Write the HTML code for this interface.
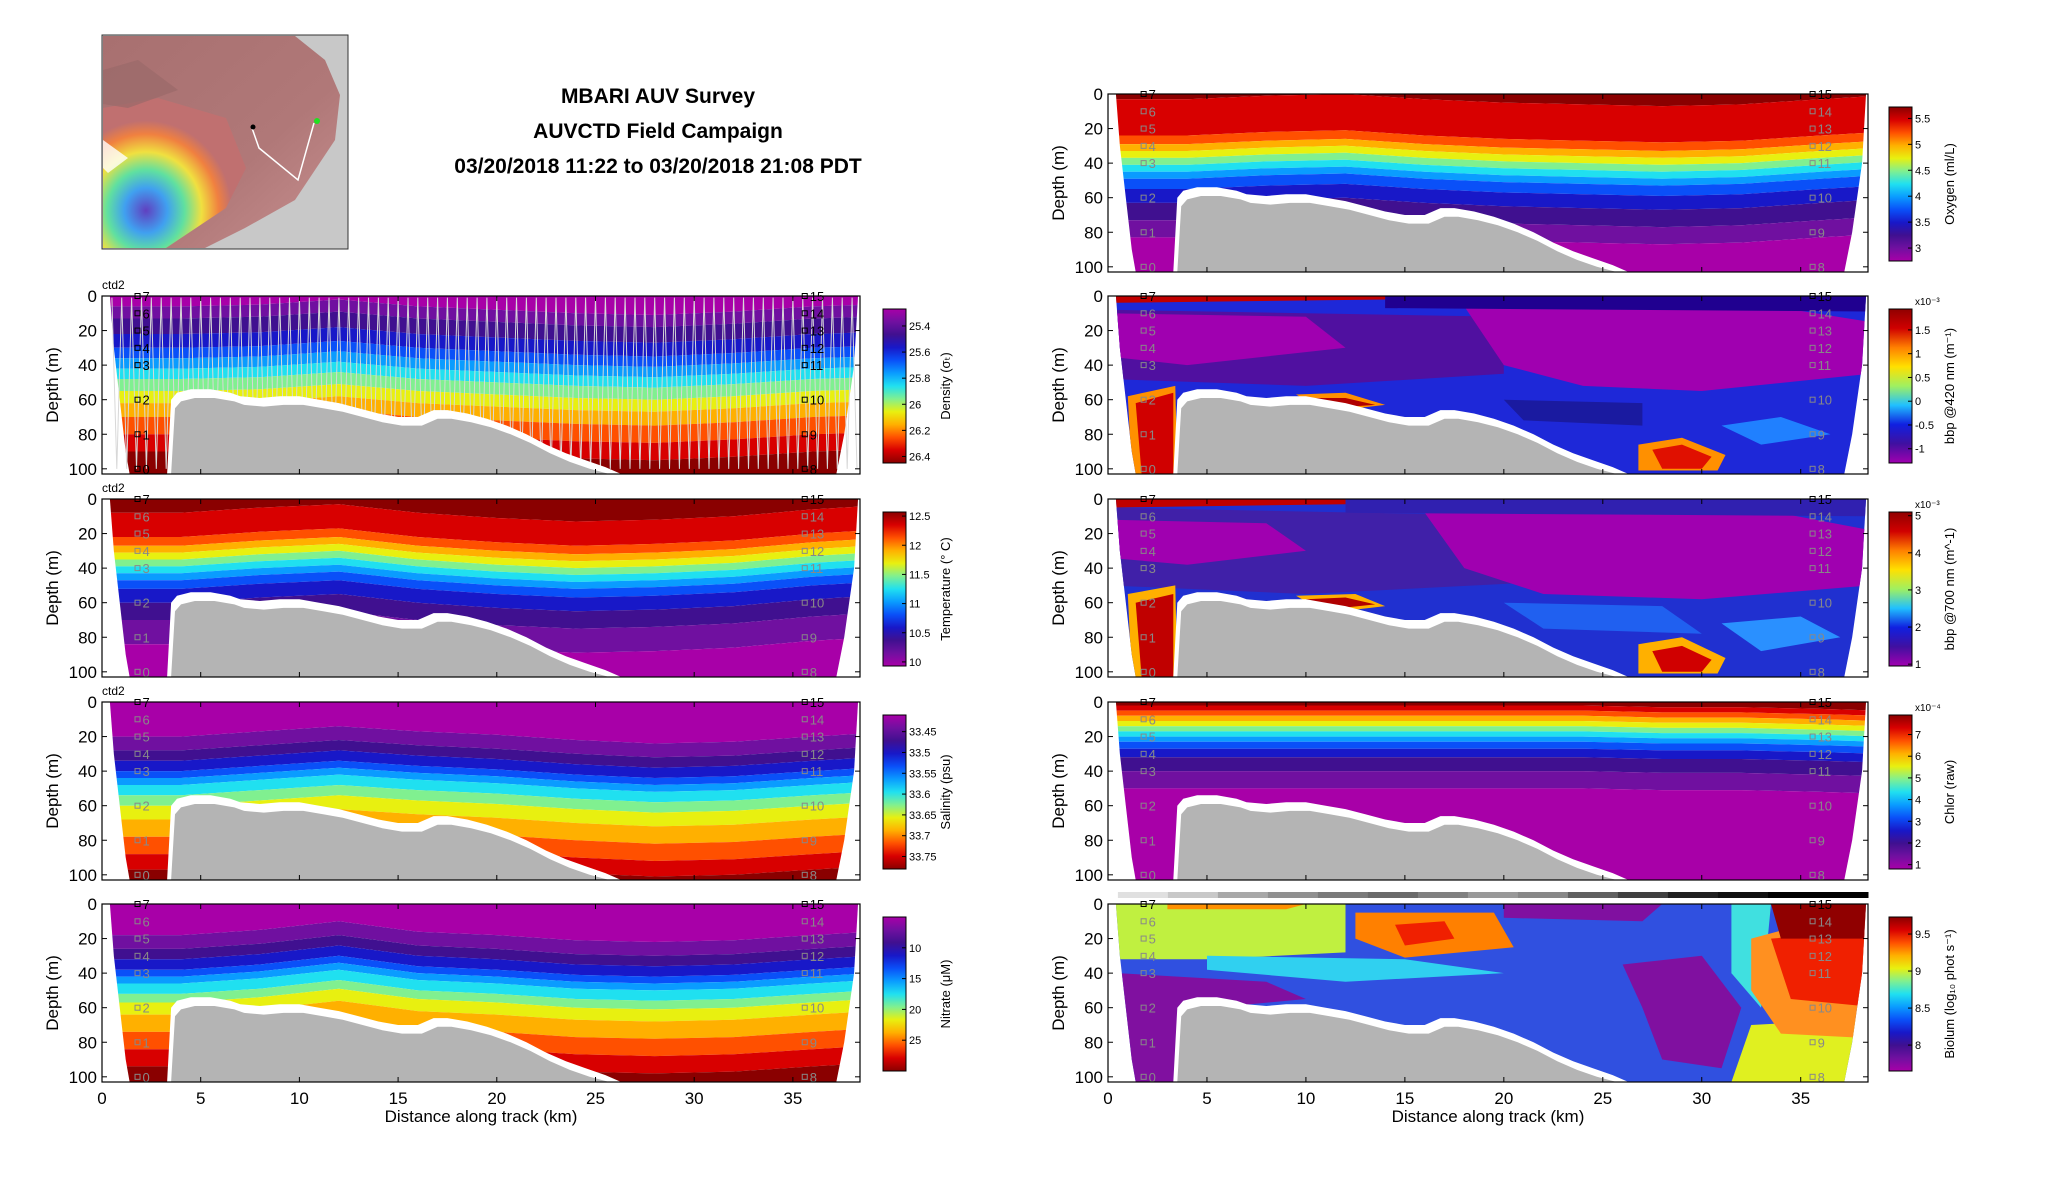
<!DOCTYPE html>
<html><head><meta charset="utf-8"><title>MBARI AUV Survey</title>
<style>
html,body{margin:0;padding:0;background:#fff;}
svg{display:block;font-family:"Liberation Sans",sans-serif;}
</style></head>
<body>
<svg id="fig" width="2052" height="1188" viewBox="0 0 2052 1188" xmlns="http://www.w3.org/2000/svg">
  <defs id="defs"></defs>
  <g id="inset">
    <defs>
      <linearGradient id="landG" x1="0" y1="0" x2="1" y2="1">
        <stop offset="0" stop-color="#a87070"/><stop offset="0.6" stop-color="#b07878"/><stop offset="1" stop-color="#c89090"/>
      </linearGradient>
      <radialGradient id="bayG" cx="0.3" cy="0.75" r="0.6">
        <stop offset="0" stop-color="#6040c0"/><stop offset="0.25" stop-color="#40a0f0"/><stop offset="0.45" stop-color="#60e0a0"/><stop offset="0.65" stop-color="#f0e040"/><stop offset="0.85" stop-color="#f08040"/><stop offset="1" stop-color="#c07070"/>
      </radialGradient>
    </defs>
    <rect x="102" y="35" width="246" height="214" fill="#c8c8c8" stroke="#333" stroke-width="1"/>
    <path d="M103,36 L295,36 L325,60 L340,95 L335,140 L315,170 L295,200 L245,228 L205,248 L103,248 Z" fill="url(#landG)"/>
    <path d="M103,108 L158,98 L226,118 L246,168 L226,208 L166,248 L103,248 Z" fill="url(#bayG)"/>
    <path d="M103,140 L128,158 L108,173 L103,168 Z" fill="#ffffff" opacity="0.8"/>
    <path d="M103,70 L138,60 L178,90 L128,108 L103,104 Z" fill="#9a6a6a" opacity="0.7"/>
    <polyline points="252,128 259,148 298,180 314,123" fill="none" stroke="#fff" stroke-width="1.5"/>
    <circle cx="253" cy="127" r="2.5" fill="#000"/>
    <circle cx="317" cy="121" r="3" fill="#20e020"/>
  </g>
  <g font-weight="bold" font-size="21" text-anchor="middle" fill="#000">
    <text x="658" y="103">MBARI AUV Survey</text>
    <text x="658" y="138">AUVCTD Field Campaign</text>
    <text x="658" y="173">03/20/2018 11:22 to 03/20/2018 21:08 PDT</text>
  </g>
  <g id="panels"></g>
</svg>
<script>
// ---------- shared data ----------
const xsKm = [0, 4, 8, 12, 16, 20, 24, 28, 32, 36, 39];
const xTickLabels = [0, 5, 10, 15, 20, 25, 30, 35];
const yTickLabels = [0, 20, 40, 60, 80, 100];
const haloKm    = [3.3, 3.5, 3.8, 4.5, 5.5, 6.5, 7, 8, 9, 10, 11, 12, 13, 14, 15, 16, 16.8, 17.5, 18.5, 19.5, 20.5, 21.5, 22.5, 23.5, 24.5, 25.5, 26.3];
const haloDepth = [103, 60, 56, 54, 54, 56, 58, 59, 58, 58, 60, 62, 65, 68, 70, 70, 66, 66, 68, 71, 75, 80, 86, 91, 95, 99, 103];
const stationLeftLabels  = [0, 1, 2, 3, 4, 5, 6, 7];
const stationLeftDepths  = [100, 80, 60, 40, 30, 20, 10, 0];
const stationRightLabels = [8, 9, 10, 11, 12, 13, 14, 15];
const stationRightDepths = [100, 80, 60, 40, 30, 20, 10, 0];

const PAL = ['#a800a8','#7010a0','#401090','#1818c8','#0a50f8','#0a9cff','#20e0f0','#80f090','#e8f010','#ffb000','#ff5000','#d80000','#8a0000'];
const PALR = PAL.slice().reverse();

const densityLevels = [8, 15, 24, 32, 38, 44, 50, 57, 64, 72, 82, 92];
const densityShift  = [-2, -2, -3, -6, -2, 0, 2, 3, 1, -2, -3];
const densityTicks  = [25.4, 25.6, 25.8, 26, 26.2, 26.4];

const tempLevels = [8, 22, 27, 31, 35, 39, 43, 47, 52, 60, 70, 84];
const tempShift  = [0, 0, -3, -5, 0, 3, 5, 4, 2, -2, -4];
const tempTicks  = [10, 10.5, 11, 11.5, 12, 12.5];

const salLevels = [20, 28, 34, 40, 44, 48, 54, 60, 68, 78, 88, 97];
const salShift  = [0, 0, -3, -6, -3, -1, 2, 4, 3, 0, -2];
const salTicks  = [33.45, 33.5, 33.55, 33.6, 33.65, 33.7, 33.75];

const nitLevels = [18, 26, 32, 38, 42, 46, 52, 57, 64, 74, 84, 94];
const nitShift  = [0, 0, -3, -8, -2, 0, 3, 4, 3, 0, -2];
const nitTicks  = [10, 15, 20, 25];

const oxyLevels = [3, 24, 29, 33, 37, 41, 45, 49, 55, 63, 73, 83];
const oxyShift  = [0, 0, -2, -3, 0, 2, 3, 4, 3, 0, -2];
const oxyTicks  = [3, 3.5, 4, 4.5, 5, 5.5];

const chlLevels = [2, 5, 8, 11, 14, 17, 20, 23, 27, 32, 40, 50];
const chlShift  = [0, 0, 0, 0, 0, 0, 0, 1, 1, 2, 3];
const chlTicks  = [1, 2, 3, 4, 5, 6, 7];

const b420Ticks = [-1, -0.5, 0, 0.5, 1, 1.5];
const b700Ticks = [1, 2, 3, 4, 5];
const bioTicks  = [8, 8.5, 9, 9.5];

// patches: [color, [[km, depth], ...]]
const b420Patches = [
  ['#5010a0', [[0,8],[20,12],[20,45],[10,52],[0,48]]],
  ['#a000b0', [[0,10],[10,12],[12,30],[4,40],[0,35]]],
  ['#a000b0', [[18,6],[33,5],[38.5,15],[38.5,45],[30,55],[24,52],[20,40]]],
  ['#200090', [[14,0],[39,0],[39,9],[14,7]]],
  ['#c00000', [[0,0],[14,0],[14,2],[0,4]]],
  ['#2080ff', [[31,75],[34,70],[36.5,80],[33,86]]],
  ['#1a1aa0', [[20,60],[27,62],[27,75],[21,72]]],
  ['#ff9000', [[1,58],[3.4,52],[3.5,103],[1.2,103]]],
  ['#d00000', [[1.4,62],[3.3,56],[3.3,103],[1.7,103]]],
  ['#ff9000', [[9.5,57],[12,56],[14,63],[11,67]]],
  ['#b00000', [[10,59],[12,59],[13.5,63],[11,65]]],
  ['#ff9000', [[26.8,86],[29,82],[31.2,92],[30.8,101],[26.8,101]]],
  ['#e01000', [[27.5,89],[29,86],[30.5,93],[30,100],[28,100]]]
];
const b700Patches = [
  ['#4020a8', [[0,5],[22,10],[22,48],[10,55],[0,50]]],
  ['#a000b0', [[0,12],[8,14],[10,30],[4,38],[0,34]]],
  ['#a000b0', [[16,8],[33,6],[38.5,18],[38.5,50],[30,58],[22,55],[18,40]]],
  ['#3020b0', [[12,0],[39,0],[39,10],[12,8]]],
  ['#c00000', [[0,0],[12,0],[12,3],[0,5]]],
  ['#2060f0', [[20,60],[28,62],[30,78],[22,75]]],
  ['#2a90ff', [[31,72],[35,68],[37,80],[33,88]]],
  ['#ffb000', [[1,55],[3.4,50],[3.5,103],[1.2,103]]],
  ['#c00000', [[1.4,60],[3.3,55],[3.3,103],[1.7,103]]],
  ['#ffb000', [[9.5,56],[12.5,55],[14,62],[11,66]]],
  ['#b00000', [[10,58],[12,57],[13.5,61],[11,64]]],
  ['#ffb000', [[26.8,84],[29,80],[31.2,92],[30.8,101],[26.8,101]]],
  ['#d00000', [[27.5,88],[29,85],[30.5,93],[30,100],[28,100]]]
];
const bioPatches = [
  ['#8010a0', [[0.5,40],[8,45],[10,55],[3.5,62],[3.5,103],[1,103],[0.5,60]]],
  ['#c0f040', [[0,0],[12,0],[12,28],[5,32],[0,32]]],
  ['#ff9000', [[3,0],[10,0],[9,3],[3,3]]],
  ['#30d0f0', [[5,30],[15,32],[20,40],[12,45],[5,38]]],
  ['#ff8000', [[12.5,5],[19.5,5],[20.5,25],[15,31],[12.5,20]]],
  ['#f02000', [[14.5,12],[17,10],[17.5,20],[15,24]]],
  ['#8010a0', [[20,0],[28,0],[27,10],[20,8]]],
  ['#8010a0', [[26,35],[30,30],[32,60],[31,95],[28,90],[27,60]]],
  ['#40e0e0', [[31.5,0],[33.5,0],[33,60],[31.5,40]]],
  ['#e0f020', [[32.5,70],[39,66],[39,103],[31.5,103]]],
  ['#ff9020', [[32.5,20],[39,0],[39,78],[34,75],[32.5,50]]],
  ['#f02000', [[33.5,20],[39,15],[39,60],[34.5,55]]],
  ['#900000', [[33.5,0],[39,0],[39,20],[34,20]]]
];
const bioBar = ['#e0e0e0','#c8c8c8','#a8a8a8','#909090','#7a7a7a','#6a6a6a','#808080','#999999','#888888','#606060','#404040','#202020','#101010','#000000','#000000'];

// ---------- layout ----------
const KM_MAX = 38.4, D_MAX = 103;
const LEFT = {x0:102, x1:860, cb:883, cbl:950};
const RIGHT = {x0:1108, x1:1868, cb:1889, cbl:1954};
const panels = [
  {name:'oxygen', col:RIGHT, y0:94, y1:272, type:'bands', levels:oxyLevels, shift:oxyShift, colors:PALR, ticks:oxyTicks, vTop:5.72, vBot:2.75, label:'Oxygen (ml/L)', xl:false},
  {name:'density', col:LEFT, y0:296, y1:474, type:'bands', levels:densityLevels, shift:densityShift, colors:PAL, ticks:densityTicks, vTop:25.27, vBot:26.45, label:'Density (σ\u209C)', ctd:true, track:true, dark:true},
  {name:'bbp420', col:RIGHT, y0:296, y1:474, type:'patch', base:'#1e28d8', patches:b420Patches, cb:['#a000b0','#4010a0','#1020e0','#20c0ff','#a0f060','#ffe000','#ff8000','#d00000','#900000'].reverse(), ticks:b420Ticks, vTop:1.94, vBot:-1.3, label:'bbp @420 nm (m\u207B\u00B9)', exp:'x10\u207B\u00B3'},
  {name:'temperature', col:LEFT, y0:499, y1:677, type:'bands', levels:tempLevels, shift:tempShift, colors:PALR, ticks:tempTicks, vTop:12.57, vBot:9.93, label:'Temperature (° C)', ctd:true},
  {name:'bbp700', col:RIGHT, y0:499, y1:677, type:'patch', base:'#2030d0', patches:b700Patches, cb:['#a000b0','#4010a0','#1020e0','#20c0ff','#a0f060','#ffe000','#ff8000','#d00000','#900000'].reverse(), ticks:b700Ticks, vTop:5.1, vBot:0.95, label:'bbp @700 nm (m^-1)', exp:'x10\u207B\u00B3'},
  {name:'salinity', col:LEFT, y0:702, y1:880, type:'bands', levels:salLevels, shift:salShift, colors:PAL, ticks:salTicks, vTop:33.41, vBot:33.78, label:'Salinity (psu)', ctd:true},
  {name:'chlor', col:RIGHT, y0:702, y1:880, type:'bands', levels:chlLevels, shift:chlShift, colors:PALR, ticks:chlTicks, vTop:7.9, vBot:0.8, label:'Chlor (raw)', exp:'x10\u207B\u2074'},
  {name:'nitrate', col:LEFT, y0:904, y1:1082, type:'bands', levels:nitLevels, shift:nitShift, colors:PAL, ticks:nitTicks, vTop:5, vBot:30, label:'Nitrate (μM)', xl:true},
  {name:'biolum', col:RIGHT, y0:904, y1:1082, type:'patch', base:'#3050e0', patches:bioPatches, cb:PALR, ticks:bioTicks, vTop:9.73, vBot:7.65, label:'Biolum (log\u2081\u2080 phot s\u207B\u00B9)', xl:true, bar:true}
];

const NS='http://www.w3.org/2000/svg';
const root=document.getElementById('panels');
const defs=document.getElementById('defs');
function mk(tag, attrs, parent){const e=document.createElementNS(NS,tag);for(const k in attrs)e.setAttribute(k,attrs[k]);(parent||root).appendChild(e);return e;}

panels.forEach((p,pi)=>{
  const c=p.col, W=c.x1-c.x0, H=p.y1-p.y0;
  const X=km=>c.x0+km*W/KM_MAX, Y=d=>p.y0+d*H/D_MAX;
  const g=mk('g',{});
  
  
  const cp=mk('clipPath',{id:'clip'+pi},defs);
  const reg=[[0.4,0],[0.6,30],[0.9,60],[1.2,90],[1.4,D_MAX],[37.2,D_MAX],[37.6,80],[38.1,40],[38.3,0]];
  mk('polygon',{points:reg.map(q=>X(q[0])+','+Y(q[1])).join(' ')},cp);
  const dg=mk('g',{'clip-path':'url(#clip'+pi+')'},g);
  
  
  if(p.type==='bands'){
    const n=p.levels.length;
    for(let b=0;b<=n;b++){
      const top=xsKm.map((k,i)=>[X(k), Y(b===0?-5:p.levels[b-1]+p.shift[i])]);
      const bot=xsKm.map((k,i)=>[X(k), Y(b===n?115:p.levels[b]+p.shift[i])]).reverse();
      const poly=mk('polygon',{points:top.concat(bot).map(q=>q[0].toFixed(1)+','+q[1].toFixed(1)).join(' '),fill:p.colors[b]},dg);
      
      
    }
  } else {
    mk('rect',{x:c.x0,y:p.y0,width:W,height:H,fill:p.base},dg);
    p.patches.forEach((pt,j)=>{
      const poly=mk('polygon',{points:pt[1].map(q=>X(q[0]).toFixed(1)+','+Y(q[1]).toFixed(1)).join(' '),fill:pt[0]},dg);
      
      
    });
  }
  if(p.track){
    let pts=[];let k=0.5, up=true;
    while(k<38.3){pts.push(X(k).toFixed(1)+','+Y(up?1:100).toFixed(1));k+=0.25;up=!up;}
    const tr=mk('polyline',{points:pts.join(' '),fill:'none',stroke:'#d8d8d8','stroke-width':1},g);
    
    
  }
  const halo=[[haloKm[0],D_MAX]].concat(haloKm.map((k,i)=>[k,haloDepth[i]]));
  const hp=mk('polygon',{points:halo.map(q=>X(q[0]).toFixed(1)+','+Y(Math.min(q[1],D_MAX)).toFixed(1)).join(' '),fill:'#ffffff'},g);
  
  
  const gray=haloKm.map((k,i)=>[k+0.2,Math.min(D_MAX,haloDepth[i]+5)]);
  gray.push([haloKm[haloKm.length-1]-0.3,D_MAX]);gray.unshift([haloKm[0]+0.2,D_MAX]);
  const bp=mk('polygon',{points:gray.map(q=>X(q[0]).toFixed(1)+','+Y(q[1]).toFixed(1)).join(' '),fill:'#b4b4b4'},g);
  
  
  const st=mk('g',{'font-size':13},g);
  
  
  [[stationLeftLabels,stationLeftDepths,1.8],[stationRightLabels,stationRightDepths,35.6]].forEach(s=>{
    s[0].forEach((lab,i)=>{
      const d=s[1][i], col=(p.dark||lab===7||lab===15)?'#000':'#888';
      mk('rect',{x:X(s[2])-2.5,y:Y(d)-2.5,width:5,height:5,fill:'none',stroke:col,'stroke-width':1},st);
      mk('text',{x:X(s[2])+5,y:Y(d)+5,fill:col},st).textContent=lab;
    });
  });
  mk('rect',{x:c.x0,y:p.y0,width:W,height:H,fill:'none',stroke:'#000','stroke-width':1.2},g);
  const ya=mk('g',{'font-size':17,'text-anchor':'end'},g);
  
  
  yTickLabels.forEach(v=>{
    mk('line',{x1:c.x0,x2:c.x0+5,y1:Y(v),y2:Y(v),stroke:'#000'},ya);
    mk('line',{x1:c.x1,x2:c.x1-5,y1:Y(v),y2:Y(v),stroke:'#000'},ya);
    mk('text',{x:c.x0-5,y:Y(v)+6},ya).textContent=v;
  });
  const yl=mk('text',{x:0,y:0,'font-size':17,'text-anchor':'middle',transform:`translate(${c.x0-44},${(p.y0+p.y1)/2}) rotate(-90)`},g);
  yl.textContent='Depth (m)';
  
  
  const xa=mk('g',{'font-size':17,'text-anchor':'middle'},g);
  
  
  xTickLabels.forEach(v=>{
    mk('line',{x1:X(v),x2:X(v),y1:p.y1,y2:p.y1-5,stroke:'#000'},xa);
    mk('line',{x1:X(v),x2:X(v),y1:p.y0,y2:p.y0+5,stroke:'#000'},xa);
    if(p.xl) mk('text',{x:X(v),y:p.y1+22},xa).textContent=v;
  });
  if(p.xl){
    const xt=mk('text',{x:(c.x0+c.x1)/2,y:p.y1+40,'font-size':17,'text-anchor':'middle'},g);
    xt.textContent='Distance along track (km)';
    
    
  }
  if(p.ctd){
    const t=mk('text',{x:c.x0,y:p.y0-7,'font-size':12},g);
    t.textContent='ctd2';
    
    
  }
  if(p.bar){
    const bg=mk('g',{},g);
    
    
    const bx0=X(0.5), bw=(c.x1-bx0)/bioBar.length;
    bioBar.forEach((col,i)=>mk('rect',{x:bx0+i*bw,y:p.y0-12,width:bw+0.5,height:6,fill:col},bg));
  }
  const cbT=p.y0+13, cbB=p.y1-11;
  const gid='cbg'+pi;
  const lg=mk('linearGradient',{id:gid,x1:0,y1:0,x2:0,y2:1},defs);
  const cols=p.cb||p.colors;
  cols.forEach((col,i)=>mk('stop',{offset:i/(cols.length-1),'stop-color':col},lg));
  const cb=mk('g',{'font-size':11},g);
  
  
  mk('rect',{x:c.cb,y:cbT,width:23,height:cbB-cbT,fill:'url(#'+gid+')',stroke:'#000','stroke-width':1},cb);
  p.ticks.forEach(v=>{
    const y=cbT+(v-p.vTop)/(p.vBot-p.vTop)*(cbB-cbT);
    mk('line',{x1:c.cb+23,x2:c.cb+19,y1:y,y2:y,stroke:'#000'},cb);
    mk('text',{x:c.cb+26,y:y+4},cb).textContent=v;
  });
  if(p.exp){mk('text',{x:c.cb+26,y:cbT-4,'font-size':10},cb).textContent=p.exp;}
  const cl=mk('text',{x:0,y:0,'font-size':13,'text-anchor':'middle',transform:`translate(${c.cbl},${(cbT+cbB)/2}) rotate(-90)`},cb);
  cl.textContent=p.label;
  
  
});
</script>
</body></html>
